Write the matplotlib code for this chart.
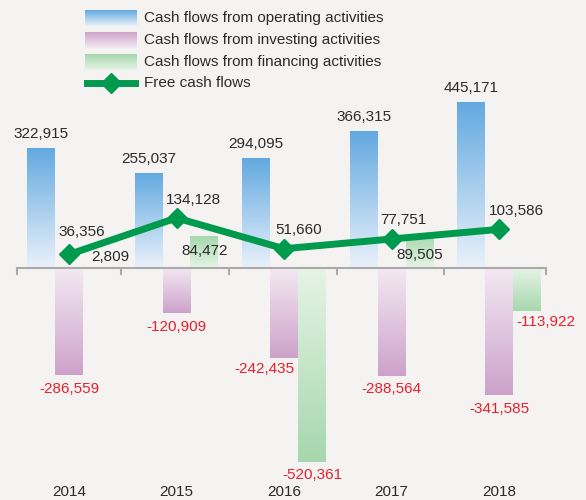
import numpy as np
import matplotlib
matplotlib.use("Agg")
import matplotlib.pyplot as plt
from matplotlib.colors import LinearSegmentedColormap
from matplotlib.lines import Line2D

plt.rcParams['font.family'] = ['Liberation Sans', 'DejaVu Sans']

years = ["2014", "2015", "2016", "2017", "2018"]
operating = [322915, 255037, 294095, 366315, 445171]
investing = [-286559, -120909, -242435, -288564, -341585]
financing = [2809, 84472, -520361, 89505, -113922]
free_cf = [36356, 134128, 51660, 77751, 103586]

# label offsets in pixels (dx, dy)
inv_off = [(0, -14), (0, -14), (-20, -11), (0, -13), (0, -14)]
fin_off = [(13, 10), (0, -15), (0, -13), (0, -20), (19, -11)]
fcf_off = [(13, 22), (17, 18), (15, 19), (12, 19), (17, 18)]

bg = "#f5f3f1"
cm_op = LinearSegmentedColormap.from_list("op", ["#eaf1fa", "#62a9e0"])
cm_inv = LinearSegmentedColormap.from_list("inv", ["#f3e9f3", "#cda2ca"])
cm_fin = LinearSegmentedColormap.from_list("fin", ["#e6f4e6", "#a6d7ad"])
green = "#009a4e"
red = "#e8202e"
txt = "#2b2b2b"

fig = plt.figure(figsize=(5.86, 5.00), dpi=100)
fig.patch.set_facecolor(bg)
ax = fig.add_axes([0, 0, 1, 1])
ax.set_facecolor(bg)
ax.set_xlim(-0.642, 4.809)
ax.set_ylim(-621760, 718240)
ax.axis("off")

x = np.arange(len(years))
w = 0.26
grad = np.linspace(0, 1, 256).reshape(-1, 1)


def grad_bars(xs, vals, cmap):
    bars = ax.bar(xs, vals, w, color="none", edgecolor="none")
    for b, v in zip(bars, vals):
        x0 = b.get_x()
        img = grad if v < 0 else grad[::-1]
        im = ax.imshow(img, cmap=cmap, aspect="auto", origin="upper",
                       extent=(x0, x0 + w, min(0, v), max(0, v)), zorder=2)
        im.set_clip_path(b)
    return bars


grad_bars(x - w, operating, cm_op)
grad_bars(x, investing, cm_inv)
grad_bars(x + w, financing, cm_fin)

# zero axis with ticks at group boundaries
ax.plot([-0.48, 4.44], [0, 0], color="#aaaaaa", lw=1.5, zorder=3)
for b in [-0.48, 0.485, 1.49, 2.49, 3.49, 4.44]:
    ax.plot([b, b], [0, -16000], color="#aaaaaa", lw=1.5, zorder=3)

ax.plot(x, free_cf, color=green, lw=5, marker="D", ms=10, zorder=5)

fs = 11
for i in range(len(years)):
    ax.annotate(f"{operating[i]:,}", (x[i] - w, operating[i]), xytext=(0, 14),
                textcoords="offset pixels", ha="center", va="center",
                fontsize=fs, color=txt, zorder=6)
    ax.annotate(f"{investing[i]:,}", (x[i], investing[i]), xytext=inv_off[i],
                textcoords="offset pixels", ha="center", va="center",
                fontsize=fs, color=red, zorder=6)
    ax.annotate(f"{financing[i]:,}", (x[i] + w, financing[i]), xytext=fin_off[i],
                textcoords="offset pixels", ha="center", va="center",
                fontsize=fs, color=red if financing[i] < 0 else txt, zorder=6)
    ax.annotate(f"{free_cf[i]:,}", (x[i], free_cf[i]), xytext=fcf_off[i],
                textcoords="offset pixels", ha="center", va="center",
                fontsize=fs, color=txt, zorder=6)
    ax.text(x[i], -600000, years[i], ha="center", va="center",
            fontsize=fs, color=txt)

# legend drawn by hand
W, H = 586.0, 500.0
leg_labels = ["Cash flows from operating activities",
              "Cash flows from investing activities",
              "Cash flows from financing activities",
              "Free cash flows"]
rows = [18, 40, 62, 83]
for cm, yc, lab in zip([cm_op, cm_inv, cm_fin], rows[:3], leg_labels[:3]):
    sw = fig.add_axes([85 / W, 1 - (yc + 8) / H, 52 / W, 16 / H])
    sw.imshow(grad[::-1], cmap=cm, aspect="auto")
    sw.axis("off")
for yc, lab in zip(rows, leg_labels):
    fig.text(144 / W, 1 - yc / H, lab, ha="left", va="center",
             fontsize=fs, color=txt)
fig.add_artist(Line2D([87 / W, 135 / W], [1 - rows[3] / H] * 2, color=green,
                      lw=5, transform=fig.transFigure))
fig.add_artist(Line2D([111 / W], [1 - rows[3] / H], color=green, marker="D",
                      ms=10, transform=fig.transFigure))

fig.savefig("out.png", dpi=100, facecolor=bg)
